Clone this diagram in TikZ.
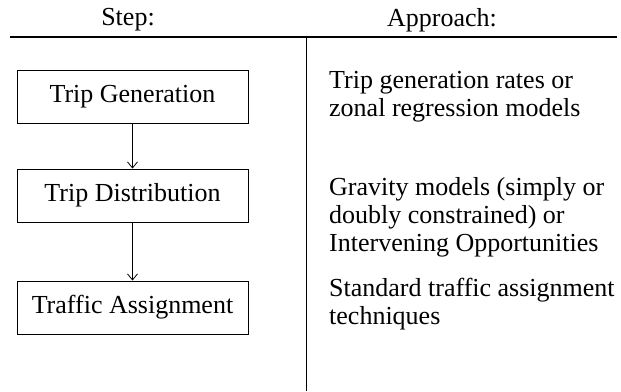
\documentclass[tikz,border=0pt]{standalone}
\usepackage{fontspec}
\setmainfont{Liberation Serif}
\usetikzlibrary{arrows.meta}

\begin{document}
\begin{tikzpicture}[x=1pt,y=-1pt,
    font=\fontsize{26}{28}\selectfont,
    stepbox/.style={draw,line width=1pt,minimum width=231pt,minimum height=53pt,inner sep=0pt},
    note/.style={anchor=west,align=left,inner sep=0pt},
    flow/.style={-{Straight Barb[length=6pt,width=10pt]},line width=0.8pt}]
    \useasboundingbox (0,0) rectangle (621,391);
    \draw[line width=1.2pt] (10,37) -- (617,37);
    \draw[line width=1.6pt] (306.5,37) -- (306.5,391);
    \node (step) at (128,20) {Step:};
    \node (appr) at (442,20) {Approach:};
    \node[stepbox] (gen) at (132.5,96.5) {Trip Generation};
    \node[stepbox] (dist) at (132.5,195.5) {Trip Distribution};
    \node[stepbox] (assign) at (132.5,307.5) {Traffic Assignment};
    \draw[flow] (gen) -- (dist);
    \draw[flow] (dist) -- (assign);
    \node[note] (genapp) at (329,96.5) {Trip generation rates or\\zonal regression models};
    \node[note] (distapp) at (329,217) {Gravity models (simply or\\doubly constrained) or\\Intervening Opportunities};
    \node[note] (assignapp) at (329,304.5) {Standard traffic assignment\\techniques};
\end{tikzpicture}
\end{document}
